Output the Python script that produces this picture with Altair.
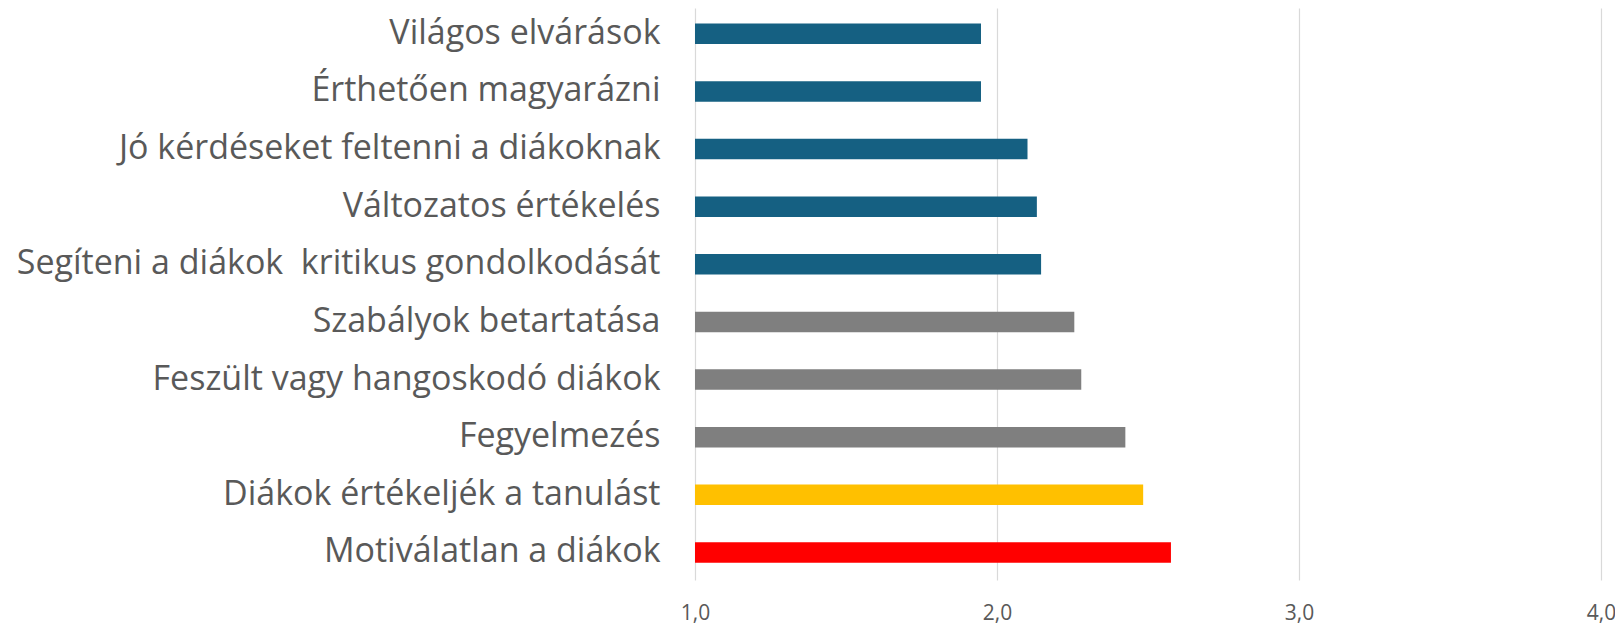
import altair as alt
import pandas as pd

categories = [
    "Világos elvárások",
    "Érthetően magyarázni",
    "Jó kérdéseket feltenni a diákoknak",
    "Változatos értékelés",
    "Segíteni a diákok\u00a0 kritikus gondolkodását",
    "Szabályok betartatása",
    "Feszült vagy hangoskodó diákok",
    "Fegyelmezés",
    "Diákok értékeljék a tanulást",
    "Motiválatlan a diákok",
]
values = [1.947, 1.947, 2.101, 2.132, 2.146, 2.256, 2.279, 2.425, 2.484, 2.576]
colors = ["#156082"] * 5 + ["#7f7f7f"] * 3 + ["#ffc000", "#ff0000"]
x_ticks = [1.0, 2.0, 3.0, 4.0]

df = pd.DataFrame({"cat": categories, "val": values, "col": colors, "base": [1.0] * len(values)})

chart = (
    alt.Chart(df)
    .mark_bar()
    .encode(
        y=alt.Y(
            "cat:N",
            sort=None,
            title=None,
            scale=alt.Scale(paddingInner=0.644, paddingOuter=0.285, align=0.474),
            axis=alt.Axis(
                domain=False,
                ticks=False,
                grid=False,
                labelFontSize=34,
                labelFont="Open Sans",
                labelColor="#595959",
                labelPadding=35,
                labelLimit=800,
            ),
        ),
        x=alt.X(
            "val:Q",
            title=None,
            scale=alt.Scale(domain=[1, 4], zero=False, nice=False),
            axis=alt.Axis(
                values=x_ticks,
                domain=False,
                ticks=False,
                grid=True,
                gridColor="#d9d9d9",
                gridWidth=1.2,
                labelFontSize=21,
                labelFont="Open Sans",
                labelColor="#595959",
                labelPadding=22,
                labelFlush=False,
                labelExpr="replace(format(datum.value, '.1f'), '.', ',')",
            ),
        ),
        x2="base:Q",
        color=alt.Color("col:N", scale=None, legend=None),
    )
    .properties(
        width=906,
        height=572,
        padding={"left": 687, "top": 0, "right": 14, "bottom": 44},
        autosize=alt.AutoSizeParams(type="none"),
    )
    .configure_view(stroke=None)
)

chart.save("out.html", embed_options={"renderer": "svg", "actions": False})
